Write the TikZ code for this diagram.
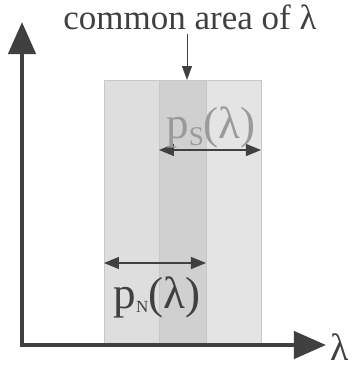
\documentclass[tikz,border=0pt]{standalone}
\usepackage{fontspec}
\setmainfont{Liberation Serif}
\usetikzlibrary{arrows.meta}
\definecolor{axisgray}{HTML}{404040}
\definecolor{lightband}{HTML}{DEDEDE}
\definecolor{darkband}{HTML}{D0D0D0}
\definecolor{bandedge}{HTML}{C8C8C8}
\definecolor{stext}{HTML}{9A9A9A}
\tikzset{
  axis/.style={line width=4.5pt, draw=axisgray, -{Triangle[length=32pt,width=27pt]}},
  dimarrow/.style={line width=1.2pt, draw=axisgray, {Triangle[length=15pt,width=12pt]}-{Triangle[length=15pt,width=12pt]}},
  pointer/.style={line width=0.9pt, draw=axisgray, -{Triangle[length=14pt,width=10pt]}},
  lbl/.style={inner sep=0pt, text=axisgray},
}
\begin{document}
\begin{tikzpicture}[x=1pt,y=-1pt]
\useasboundingbox (0,0) rectangle (352,368);
% bands
\fill[lightband] (104,80) rectangle (159,345);
\fill[darkband] (159,80) rectangle (206,345);
\fill[lightband!80!white] (206,80) rectangle (261,345);
\draw[bandedge, line width=0.6pt] (104,80) rectangle (261,345);
\draw[bandedge, line width=0.6pt] (159,80) -- (159,345) (206,80) -- (206,345);
% axes
\coordinate (origin) at (20,345);
\coordinate (ytip) at (22,22);
\coordinate (xtip) at (326,345);
\draw[axis] (22,347) -- (ytip);
\draw[axis] (origin) -- (xtip);
\node[lbl, font=\fontsize{38}{38}\selectfont] (lam) at (340,347) {λ};
% common area
\node[lbl, font=\fontsize{35}{35}\selectfont] (common) at (190,17) {common area of λ};
\coordinate (commonpt) at (187,80);
\draw[pointer] (187,34) -- (commonpt);
% S
\coordinate (sL) at (159,150);
\coordinate (sR) at (261,150);
\draw[dimarrow] (sL) -- (sR);
\node[lbl, text=stext, font=\fontsize{45}{45}\selectfont] (ps) at (211,127) {p\raisebox{-7pt}{\fontsize{27}{27}\selectfont S}(λ)};
% N
\coordinate (nL) at (104,263);
\coordinate (nR) at (206,263);
\draw[dimarrow] (nL) -- (nR);
\node[lbl, font=\fontsize{45}{45}\selectfont] (pn) at (157,297) {p\raisebox{-4pt}{\fontsize{17}{17}\selectfont N}(λ)};
\end{tikzpicture}
\end{document}
